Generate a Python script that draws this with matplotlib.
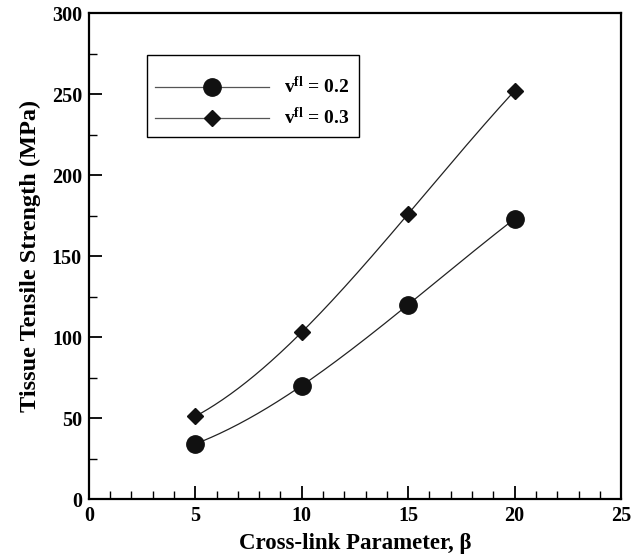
import numpy as np
import matplotlib
matplotlib.use("Agg")
import matplotlib.pyplot as plt
from matplotlib.ticker import MultipleLocator
from matplotlib.patches import Rectangle

plt.rcParams['font.family'] = ['Liberation Serif', 'DejaVu Serif']
plt.rcParams['font.weight'] = 'bold'
plt.rcParams['mathtext.fontset'] = 'custom'
plt.rcParams['mathtext.rm'] = 'Liberation Serif:bold'
plt.rcParams['mathtext.bf'] = 'Liberation Serif:bold'
plt.rcParams['mathtext.it'] = 'Liberation Serif:bold'

# data
beta = [5, 10, 15, 20]
strength_02 = [34, 70, 120, 173]
strength_03 = [51, 103, 176, 252]
labels = ['v$^{\\mathrm{fl}}$ = 0.2', 'v$^{\\mathrm{fl}}$ = 0.3']

fig = plt.figure(figsize=(6.39, 5.58), dpi=100)
ax = fig.add_axes([0.139, 0.1057, 0.833, 0.8710])

# smooth curve through the points (cubic through the 4 points)
xs = np.linspace(beta[0], beta[-1], 200)
c1 = np.polyfit(beta, strength_02, 3)
c2 = np.polyfit(beta, strength_03, 3)
ax.plot(xs, np.polyval(c1, xs), color='#222222', lw=0.9)
ax.plot(xs, np.polyval(c2, xs), color='#222222', lw=0.9)
ax.plot(beta, strength_02, 'o', color='#111111', ms=12.5)
ax.plot(beta, strength_03, 'D', color='#111111', ms=8)

# legend: no frame from matplotlib, box drawn by hand (top padding is larger)
h1, = ax.plot([], [], '-o', color='#111111', ms=12.5, lw=0.9)
h2, = ax.plot([], [], '-D', color='#111111', ms=8, lw=0.9)
leg = ax.legend([h1, h2], labels, loc='center left', bbox_to_anchor=(0.124, 0.816),
                borderaxespad=0, frameon=False, borderpad=0,
                fontsize=14, handlelength=5.85, handletextpad=0.77,
                labelspacing=0.5)
for line in leg.get_lines():
    line.set_color('#555555')
    line.set_markerfacecolor('#111111')
    line.set_markeredgecolor('#111111')
ax.add_patch(Rectangle((0.109, 0.745), 0.3985, 0.1686, transform=ax.transAxes,
                       fill=False, edgecolor='black', lw=1.0, zorder=5))

ax.set_xlim(0, 25)
ax.set_ylim(0, 300)
ax.xaxis.set_major_locator(MultipleLocator(5))
ax.xaxis.set_minor_locator(MultipleLocator(1))
ax.yaxis.set_major_locator(MultipleLocator(50))
ax.yaxis.set_minor_locator(MultipleLocator(25))
ax.tick_params(which='major', direction='in', length=9.5, width=1.3, labelsize=14.5, pad=5)
ax.tick_params(which='minor', direction='in', length=5.5, width=1.0)
for s in ax.spines.values():
    s.set_linewidth(1.6)

ax.set_xlabel('Cross-link Parameter, β', fontsize=16.5, fontweight='bold', labelpad=5)
ax.set_ylabel('Tissue Tensile Strength (MPa)', fontsize=17.5, fontweight='bold', labelpad=8)

fig.savefig('out.png', dpi=100)
